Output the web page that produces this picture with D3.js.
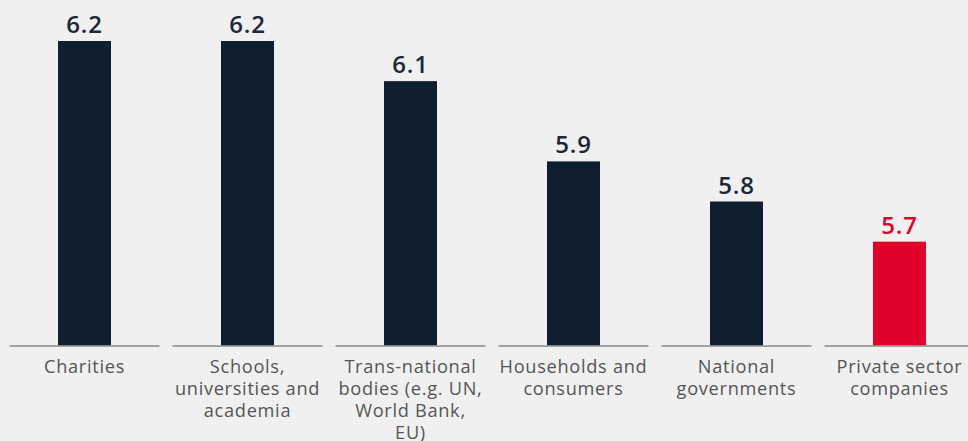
<!DOCTYPE html>
<html>
<head>
<meta charset="utf-8">
<script src="https://cdn.jsdelivr.net/npm/d3@7"></script>
<style>
  html, body { margin: 0; padding: 0; background: #f0f0f0; }
  svg { display: block; }
</style>
</head>
<body>
<svg id="chart" width="968" height="441"></svg>
<script>
// Categories, with their label lines as they are broken under each bar
const categories = [
  "Charities",
  "Schools, universities and academia",
  "Trans-national bodies (e.g. UN, World Bank, EU)",
  "Households and consumers",
  "National governments",
  "Private sector companies"
];
const labelLines = [
  ["Charities"],
  ["Schools,", "universities and", "academia"],
  ["Trans-national", "bodies (e.g. UN,", "World Bank,", "EU)"],
  ["Households and", "consumers"],
  ["National", "governments"],
  ["Private sector", "companies"]
];
const values = [6.2, 6.2, 6.1, 5.9, 5.8, 5.7];
const highlighted = ["Private sector companies"];

const W = 968, H = 441;
const baseY = 346;
const navy = "#0f1f2f", red = "#e0002a";

const svg = d3.select("#chart");
svg.append("rect").attr("width", W).attr("height", H).attr("fill", "#f0f0f0");

const x = d3.scaleBand().domain(categories).range([3, 3 + 163 * 6]).padding(0);
const y = d3.scaleLinear().domain([5.44, 6.2]).range([baseY, 41]);

const barW = 53, segW = 150;
const data = categories.map((c, i) => ({ cat: c, value: values[i], lines: labelLines[i] }));
const colorOf = d => highlighted.includes(d.cat) ? red : navy;

const g = svg.append("g");

// baseline segment under each category
g.selectAll("line.base").data(data).join("line")
  .attr("class", "base")
  .attr("x1", d => x(d.cat) + x.bandwidth() / 2 - segW / 2)
  .attr("x2", d => x(d.cat) + x.bandwidth() / 2 + segW / 2)
  .attr("y1", baseY).attr("y2", baseY)
  .attr("stroke", "#8a8a8a").attr("stroke-width", 1.5);

// bars
g.selectAll("rect.bar").data(data).join("rect")
  .attr("class", "bar")
  .attr("x", d => x(d.cat) + x.bandwidth() / 2 - barW / 2)
  .attr("width", barW)
  .attr("y", d => y(d.value))
  .attr("height", d => baseY - y(d.value) - 0.75)
  .attr("fill", colorOf);

// value labels
g.selectAll("text.val").data(data).join("text")
  .attr("class", "val")
  .attr("x", d => x(d.cat) + x.bandwidth() / 2)
  .attr("y", d => y(d.value) - 8)
  .attr("text-anchor", "middle")
  .attr("font-family", "'Open Sans', sans-serif")
  .attr("font-weight", 600)
  .attr("font-size", 24)
  .attr("letter-spacing", 0.8)
  .attr("fill", d => highlighted.includes(d.cat) ? red : "#1a2838")
  .text(d => d3.format(".1f")(d.value));

// category labels
const lab = g.selectAll("text.cat").data(data).join("text")
  .attr("class", "cat")
  .attr("text-anchor", "middle")
  .attr("font-family", "'Open Sans', sans-serif")
  .attr("font-size", 18.2)
  .attr("letter-spacing", 0.7)
  .attr("fill", "#555555");
lab.selectAll("tspan").data(d => d.lines.map(l => ({ l, cx: x(d.cat) + x.bandwidth() / 2 }))).join("tspan")
  .attr("x", t => t.cx)
  .attr("y", (t, i) => 373 + i * 22)
  .text(t => t.l);
</script>
</body>
</html>
